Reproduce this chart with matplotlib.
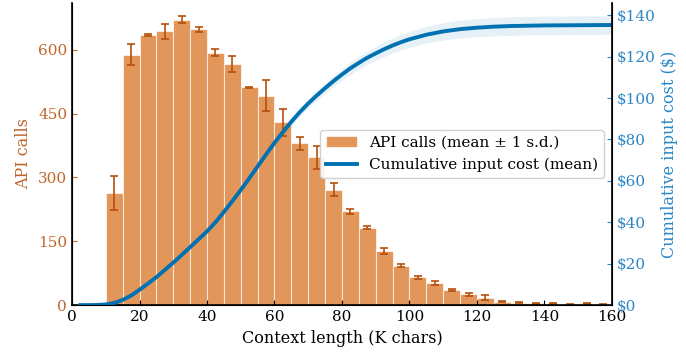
import numpy as np
import matplotlib
matplotlib.use("Agg")
import matplotlib.pyplot as plt
from matplotlib.ticker import FuncFormatter, MultipleLocator

plt.rcParams['font.family'] = ['DejaVu Serif']

# API calls per 5K-char bin (left edges), mean and 1 s.d.
bin_left = [10, 15, 20, 25, 30, 35, 40, 45, 50, 55, 60, 65, 70, 75, 80,
            85, 90, 95, 100, 105, 110, 115, 120, 125, 130, 135, 140, 145, 150, 155]
calls_mean = [264, 588, 635, 643, 670, 648, 593, 566, 512, 492, 429, 380, 347, 271, 220,
              182, 128, 93, 65, 52, 36, 25, 17, 8, 6, 4, 3, 2, 3, 2]
calls_sd = [40, 25, 2, 18, 8, 6, 8, 18, 1, 36, 31, 16, 27, 15, 5,
            3, 7, 3, 3, 4, 2, 3, 6, 1, 2, 1, 1, 1, 1, 1]

# cumulative input cost curve, mean and 1 s.d.
cost_x = [2.5, 5, 7.5, 10, 12.5, 15, 17.5, 20, 22.5, 25, 27.5, 30, 32.5, 35, 37.5, 40,
          42.5, 45, 47.5, 50, 52.5, 55, 57.5, 60, 62.5, 65, 67.5, 70, 72.5, 75, 77.5, 80,
          82.5, 85, 87.5, 90, 92.5, 95, 97.5, 100, 105, 110, 115, 120, 125, 130, 140, 150, 160]
cost_mean = [0, 0, 0.05, 0.3, 1.0, 2.5, 4.6, 7.4, 10.4, 13.5, 17.0, 20.5, 24.2, 28.0, 31.8, 35.6,
             40.0, 45.0, 50.2, 55.6, 61.2, 67.0, 72.8, 78.4, 83.6, 88.6, 93.2, 97.4, 101.2, 104.8, 108.2, 111.4,
             114.4, 117.0, 119.5, 121.6, 123.6, 125.4, 127.0, 128.4, 130.6, 132.2, 133.3, 134.0, 134.5, 134.8, 135.1, 135.2, 135.3]
cost_sd = [0, 0, 0, 0, 0.05, 0.1, 0.15, 0.2, 0.25, 0.3, 0.35, 0.4, 0.45, 0.5, 0.55, 0.6,
           0.7, 0.8, 0.9, 1.0, 1.1, 1.25, 1.4, 1.55, 1.7, 1.85, 2.0, 2.15, 2.3, 2.45, 2.6, 2.75,
           2.9, 3.05, 3.2, 3.35, 3.5, 3.6, 3.7, 3.8, 4.0, 4.2, 4.3, 4.4, 4.45, 4.5, 4.5, 4.5, 4.5]

orange = '#d55e00'
orange_txt = '#c0662a'
err_col = '#b5500c'
blue = '#0072b2'
blue_txt = '#2a86c6'

fig, ax = plt.subplots(figsize=(6.86, 3.56), dpi=100)
fig.subplots_adjust(left=0.105, right=0.892, bottom=0.143, top=0.992)

bars = ax.bar(bin_left, calls_mean, width=5, align='edge', color=orange, alpha=0.65,
              edgecolor='white', linewidth=0.8, label='API calls (mean ± 1 s.d.)', zorder=1)
ax.errorbar(np.array(bin_left) + 2.5, calls_mean, yerr=calls_sd, fmt='none',
            ecolor=err_col, elinewidth=1.2, capsize=3, capthick=1.2, zorder=2)

ax.set_xlim(0, 160)
ax.set_ylim(0, 710)
ax.xaxis.set_major_locator(MultipleLocator(20))
ax.yaxis.set_major_locator(MultipleLocator(150))
ax.set_xlabel('Context length (K chars)', fontsize=11.5)
ax.set_ylabel('API calls', color=orange_txt, fontsize=11.5)
ax.tick_params(axis='y', colors=orange_txt, direction='in', labelsize=11)
ax.tick_params(axis='x', direction='in', labelsize=11)
ax.spines['top'].set_visible(False)
for s in ('left', 'bottom'):
    ax.spines[s].set_linewidth(1.2)

ax2 = ax.twinx()
cm = np.array(cost_mean)
cs = np.array(cost_sd)
ax2.fill_between(cost_x, cm - cs, cm + cs, color=blue, alpha=0.1, linewidth=0, zorder=1)
line, = ax2.plot(cost_x, cost_mean, color=blue, lw=2.8, label='Cumulative input cost (mean)', zorder=2)
ax2.set_ylim(0, 146)
ax2.yaxis.set_major_locator(MultipleLocator(20))
ax2.yaxis.set_major_formatter(FuncFormatter(lambda v, p: f'${v:.0f}'))
ax2.set_ylabel('Cumulative input cost ($)', color=blue_txt, fontsize=11.5)
ax2.tick_params(axis='y', colors=blue_txt, direction='in', labelsize=11)
ax2.spines['top'].set_visible(False)
ax2.spines['right'].set_linewidth(1.2)

leg = ax2.legend([bars, line], ['API calls (mean ± 1 s.d.)', 'Cumulative input cost (mean)'],
                 loc='center right', fontsize=11, framealpha=0.9, edgecolor='#cccccc')

fig.savefig('out.png', dpi=100)
